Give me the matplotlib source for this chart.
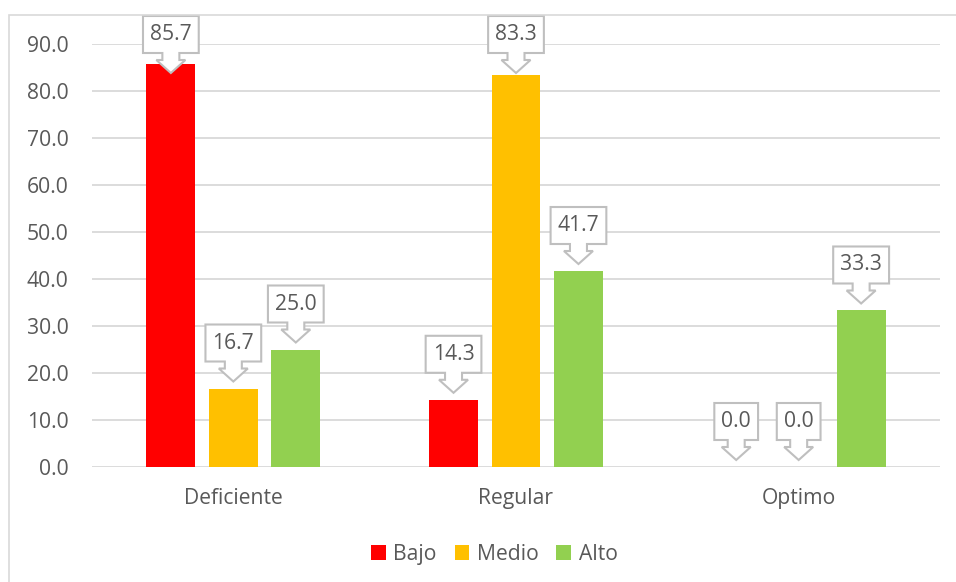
import numpy as np
import matplotlib.pyplot as plt
from matplotlib.patches import Polygon, Rectangle
from matplotlib.transforms import ScaledTranslation

plt.rcParams["font.family"] = ["Open Sans", "DejaVu Sans"]

categories = ["Deficiente", "Regular", "Optimo"]
series = ["Bajo", "Medio", "Alto"]
values = {
    "Bajo": [85.7, 14.3, 0.0],
    "Medio": [16.7, 83.3, 0.0],
    "Alto": [25.0, 41.7, 33.3],
}
colors = {"Bajo": "#FF0000", "Medio": "#FFC000", "Alto": "#92D050"}
yticks = [0, 10, 20, 30, 40, 50, 60, 70, 80, 90]

TEXT = "#595959"
GRID = "#D9D9D9"
FS = 15.2

fig = plt.figure(figsize=(9.56, 5.82), dpi=100)
ax = fig.add_axes([92 / 956, 115 / 582, 848 / 956, 423 / 582])

# chart border (only the top and left edges show in the crop)
fig.add_artist(Rectangle((9 / 956, -0.1), 1.2, 567 / 582 + 0.1,
                         transform=fig.transFigure, fill=False,
                         edgecolor=GRID, linewidth=1.2))

x = np.arange(len(categories))
width = 0.173
step = 0.221

bars = []
for j, name in enumerate(series):
    b = ax.bar(x + (j - 1) * step, values[name], width, color=colors[name],
               label=name, zorder=2)
    bars.append(b)

ax.set_xlim(-0.5, 2.5)
ax.set_ylim(0, 90)
ax.set_yticks(yticks)
ax.set_yticklabels([f"{v:.1f}" for v in yticks])
ax.set_xticks(x)
ax.set_xticklabels(categories)
ax.tick_params(axis="both", length=0, colors=TEXT, labelsize=FS)
ax.tick_params(axis="y", pad=17)
ax.tick_params(axis="x", pad=15)
ax.grid(axis="y", color=GRID, linewidth=1.3, zorder=0)
ax.set_axisbelow(True)
for s in ax.spines.values():
    s.set_visible(False)


def callout(half_w):
    # outline in pixels relative to the arrow tip (1 px = 0.01 in)
    pts = [(0, 0), (-14.5, 13), (-8.5, 13), (-8.5, 20), (-half_w, 20),
           (-half_w, 57), (half_w, 57), (half_w, 20), (8.5, 20),
           (8.5, 13), (14.5, 13)]
    return np.array(pts) * 0.01


fig.canvas.draw()
renderer = fig.canvas.get_renderer()
fig_h_px = fig.bbox.height
for j, name in enumerate(series):
    for rect, v in zip(bars[j], values[name]):
        cx = rect.get_x() + rect.get_width() / 2
        px, py = ax.transData.transform((cx, v))
        tip = py + 7
        # keep the box inside the chart's top edge
        top_limit = fig_h_px - 16
        if tip + 57 > top_limit:
            tip = top_limit - 57
        dy = (tip - py) / 100.0
        tr = fig.dpi_scale_trans + ScaledTranslation(cx, v, ax.transData)
        t = ax.text(0, dy + 0.385, f"{v:.1f}", transform=tr, ha="center",
                    va="center", fontsize=FS, color=TEXT, zorder=6,
                    clip_on=False)
        tw = t.get_window_extent(renderer).width
        poly = Polygon(callout(tw / 2 + 7) + np.array([0, dy]), closed=True,
                       transform=tr, facecolor="white", edgecolor="#BFBFBF",
                       linewidth=1.5, zorder=5, clip_on=False)
        ax.add_artist(poly)

fig.legend(loc="center", bbox_to_anchor=(0.517, 0.048), ncol=3, frameon=False,
           handlelength=0.7, handleheight=0.7, handletextpad=0.35,
           columnspacing=0.85, fontsize=FS, labelcolor=TEXT)

fig.savefig("out.png", dpi=100)
